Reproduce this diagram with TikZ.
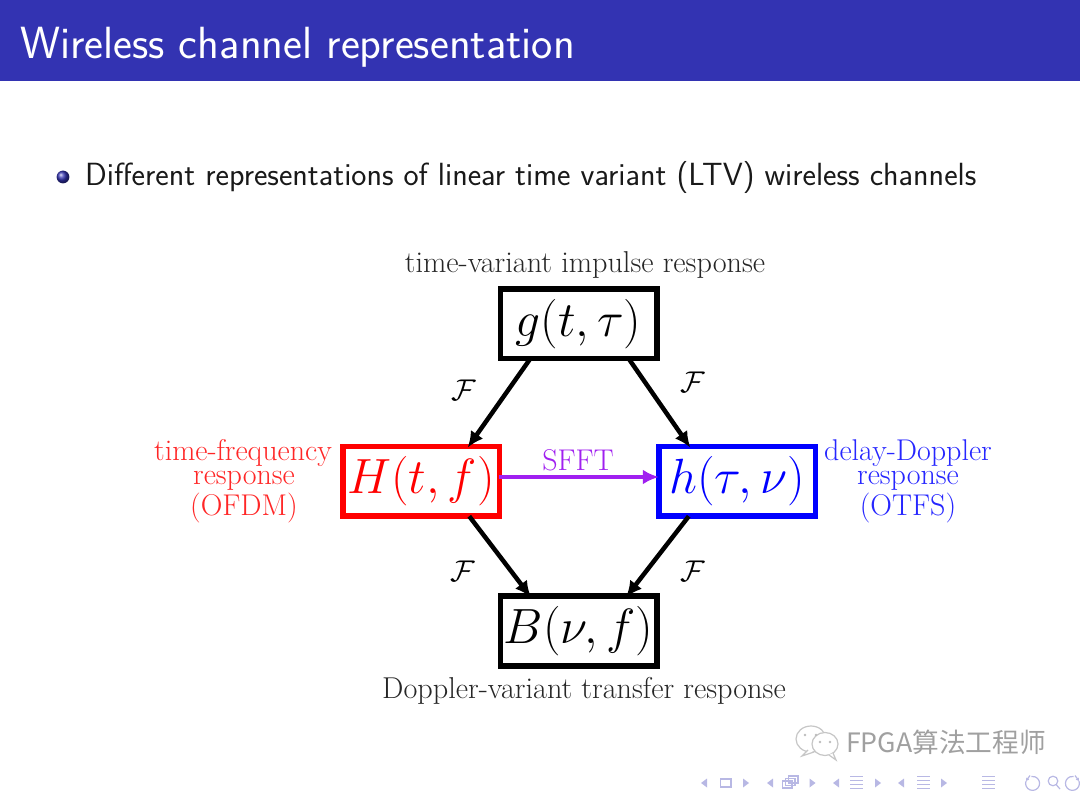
\documentclass[tikz,border=0pt]{standalone}
\usepackage{fix-cm}
\usepackage{fontspec}
\newfontfamily\cjkwm{Noto Sans CJK SC}
\usetikzlibrary{arrows.meta,shapes.geometric,shadings}
\definecolor{barblue}{HTML}{3333B2}
\definecolor{navblue}{HTML}{B8B8E4}
\definecolor{wmgray}{HTML}{A0A0A0}
\definecolor{sfftpurple}{HTML}{A020F0}
\definecolor{inktext}{HTML}{262626}
\newcommand{\fsz}[1]{\fontsize{#1}{#1}\selectfont}
\tikzset{
 x=1pt,y=-1pt,
 mathbox/.style={draw=#1,text=#1,line width=5.5pt,minimum width=156.5pt,minimum height=69.5pt,inner sep=0pt,outer sep=0pt,font=\fsz{49.5}},
 link/.style={line width=4.5pt,draw=black,-{Latex[length=16pt,width=15pt]},shorten >=-1pt},
 flabel/.style={font=\fsz{30},inner sep=0pt},
 captext/.style={font=\rmfamily\fsz{30.2},inner sep=0pt,text=inktext,anchor=base},
 sidecap/.style={font=\rmfamily\fsz{30},inner sep=0pt,anchor=base,text=#1},
 navsym/.style={draw=navblue,line width=1.2pt,fill=none},
 navtip/.style={fill=navblue,draw=none},
 bubble/.style={draw=wmgray!60,line width=1.2pt,fill=white},
}
\newcommand{\navr}[2]{\fill[navtip] (#1,#2-4.5) -- (#1+6,#2) -- (#1,#2+4.5) -- cycle;}
\newcommand{\navl}[2]{\fill[navtip] (#1,#2-4.5) -- (#1-6,#2) -- (#1,#2+4.5) -- cycle;}
\newcommand{\navlines}[2]{\draw[navsym] (#1-6.5,#2-6) -- (#1+6.5,#2-6) (#1-6.5,#2-2) -- (#1+6.5,#2-2) (#1-6.5,#2+2) -- (#1+6.5,#2+2) (#1-6.5,#2+6) -- (#1+6.5,#2+6);}
\begin{document}
\begin{tikzpicture}
\useasboundingbox (0,0) rectangle (1080,791);
\fill[barblue] (0,0) rectangle (1080,81);
\node[anchor=base west,inner sep=0pt,text=white,font=\sffamily\fsz{45.1}] (title) at (20,59) {Wireless channel representation};
\shade[ball color=barblue] (63,177) circle (6.4);
\node[anchor=base west,inner sep=0pt,text=black!90,font=\sffamily\fsz{32.1}] (bullet) at (85,186) {Different representations of linear time variant (LTV) wireless channels};

\node[mathbox=black] (g) at (578.5,324) {$g(t,\tau)$};
\node[mathbox=red] (H) at (421,481.5) {$H(t,f)$};
\node[mathbox=blue] (hh) at (737,481.5) {$h(\tau,\nu)$};
\node[mathbox=black] (B) at (578.5,631) {$B(\nu,f)$};

\draw[link] ([xshift=30pt]g.south west) -- ([xshift=-31pt]H.north east);
\draw[link] ([xshift=-28pt]g.south east) -- ([xshift=31pt]hh.north west);
\draw[link] ([xshift=-30pt]H.south east) -- ([xshift=30pt]B.north west);
\draw[link] ([xshift=30pt]hh.south west) -- ([xshift=-30pt]B.north east);
\draw[line width=4.5pt,draw=sfftpurple,-{Latex[length=16pt,width=15pt]}] ([yshift=4.5pt]H.east) -- ([yshift=4.5pt]hh.west);
\node[font=\rmfamily\fsz{30},text=sfftpurple,inner sep=0pt,anchor=base] (sfft) at (578,470.5) {SFFT};

\node[flabel] (f1) at (464,390) {$\mathcal{F}$};
\node[flabel] (f2) at (693,382) {$\mathcal{F}$};
\node[flabel] (f3) at (463,571) {$\mathcal{F}$};
\node[flabel] (f4) at (693,571) {$\mathcal{F}$};

\node[captext] (topc) at (585,273) {time-variant impulse response};
\node[captext] (botc) at (584,698) {Doppler-variant transfer response};
\node[sidecap=red!85!white] (l1) at (243,461) {time-frequency};
\node[sidecap=red!85!white] (l2) at (244,485) {response};
\node[sidecap=red!85!white] (l3) at (244,516) {(OFDM)};
\node[sidecap=blue!85!white] (r1) at (908,461) {delay-Doppler};
\node[sidecap=blue!85!white] (r2) at (908,485) {response};
\node[sidecap=blue!85!white] (r3) at (908,516) {(OTFS)};

% watermark
\draw[bubble] (811,739) ellipse (15 and 13);
\draw[bubble] (808,750) -- (802,756) -- (814,752);
\draw[bubble] (825,744) ellipse (13 and 11.5);
\draw[bubble] (829,755) -- (836,760) -- (833,753);
\fill[wmgray!70] (805,735) circle (1.4) (816,735) circle (1.4) (820,742) circle (1.4) (830,742) circle (1.4);
\node[anchor=base west,inner sep=0pt,text=wmgray,font=\cjkwm\fsz{26.7}] (wm) at (846,752) {FPGA算法工程师};

% navigation symbols
\navl{707}{783}
\draw[navsym] (720.5,779) rectangle (731,787);
\navr{743}{783}
\navl{773}{783}
\draw[navsym] (782.5,781) rectangle (792,788) (785.5,778.5) rectangle (795,785.5) (788.5,776) rectangle (798,783);
\navr{809.5}{783}
\navl{839}{783}
\navlines{856.5}{782.5}
\navr{875}{783}
\navl{904}{783}
\navlines{923.5}{782.5}
\navr{941}{783}
\navlines{988.5}{782.5}
\draw[navsym] (1026,781) arc (200:-100:7);
\draw[navsym,-{Latex[length=3pt,width=4pt]}] (1030,775.5) -- (1026,781);
\draw[navsym] (1053,781) circle (4.8) (1056.5,785) -- (1060,789);
\draw[navsym] (1079,781) arc (-20:280:7);
\draw[navsym,-{Latex[length=3pt,width=4pt]}] (1075,775.5) -- (1079,781);
\end{tikzpicture}
\end{document}
